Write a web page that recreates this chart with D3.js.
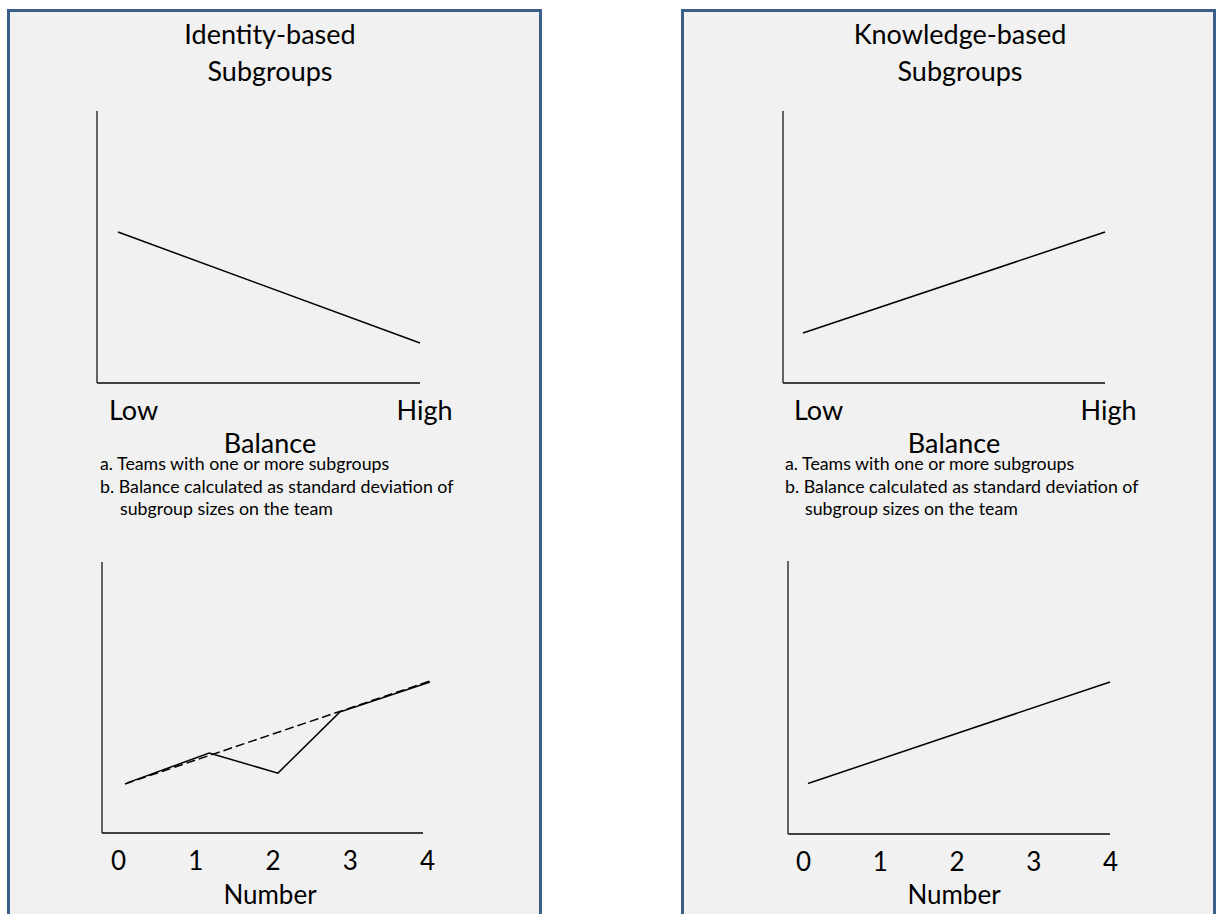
<!DOCTYPE html>
<html>
<head>
<meta charset="utf-8">
<script src="https://cdn.jsdelivr.net/npm/d3@7"></script>
<style>
  html, body { margin: 0; padding: 0; background: #ffffff; }
  svg { display: block; }
  text { font-family: Lato, "Open Sans", sans-serif; fill: #000; }
</style>
</head>
<body>
<svg id="chart" width="1217" height="914"></svg>
<script>
// ---------------- DATA ----------------
const panelTitles = [["Identity-based", "Subgroups"], ["Knowledge-based", "Subgroups"]];
const balanceLabels = ["Low", "High"];
const balanceAxisTitle = "Balance";
const notes = [
  "a. Teams with one or more subgroups",
  "b. Balance calculated as standard deviation of",
  "subgroup sizes on the team"
];
const numberTicks = [0, 1, 2, 3, 4];
const numberAxisTitle = "Number";

// Balance panels: x on 0–1 balance scale, y on 0–10 outcome scale
const identityBalanceX = [0.065, 1.0];
const identityBalanceY = [5.55, 1.47];
const knowledgeBalanceX = [0.062, 1.0];
const knowledgeBalanceY = [1.84, 5.55];

// Number panels: x = number of subgroups, y on 0–10 outcome scale
const identityNumberX = [0.12, 1.18, 2.07, 2.87, 4.04];
const identityNumberY = [1.85, 2.95, 2.21, 4.46, 5.57];
const identityTrendX = [0.09, 4.04];
const identityTrendY = [1.81, 5.61];
const knowledgeNumberX = [0.065, 4.0];
const knowledgeNumberY = [1.85, 5.57];

// ---------------- LAYOUT ----------------
const svg = d3.select("#chart");
const FONT_BIG = 27;
const FONT_NOTE = 17.8;
const panels = [
  { x: 8.5, w: 532, cx: 270, tx: 270,
    top: { x0: 97, x1: 420, y0: 111, y1: 383, lowX: 133, highX: 424 },
    bot: { x0: 102, x1: 423, y0: 562, y1: 833, t0: 118, t4: 427 },
    notesX: 100,
    balX: identityBalanceX, balY: identityBalanceY,
    numSeries: [
      { x: identityNumberX, y: identityNumberY, dash: null },
      { x: identityTrendX, y: identityTrendY, dash: "9,4" }
    ] },
  { x: 682.5, w: 532, cx: 954, tx: 960,
    top: { x0: 783, x1: 1105, y0: 111, y1: 383, lowX: 818, highX: 1108 },
    bot: { x0: 788, x1: 1110, y0: 561, y1: 834, t0: 803, t4: 1110 },
    notesX: 785,
    balX: knowledgeBalanceX, balY: knowledgeBalanceY,
    numSeries: [
      { x: knowledgeNumberX, y: knowledgeNumberY, dash: null }
    ] }
];

panels.forEach((p, i) => {
  const g = svg.append("g");
  // panel box
  g.append("rect")
    .attr("x", p.x).attr("y", 10.5)
    .attr("width", p.w).attr("height", 1000)
    .attr("fill", "#f1f1f1")
    .attr("stroke", "#3a5f8b").attr("stroke-width", 3);

  // title
  const title = g.append("text")
    .attr("text-anchor", "middle")
    .attr("font-size", FONT_BIG);
  panelTitles[i].forEach((t, k) => {
    title.append("tspan").attr("x", p.tx).attr("y", 44 + k * 37).text(t);
  });

  // ---------- top chart (Balance) ----------
  const T = p.top;
  const xb = d3.scaleLinear().domain([0, 1]).range([T.x0, T.x1]);
  const yb = d3.scaleLinear().domain([0, 10]).range([T.y1, T.y0]);
  g.append("line").attr("x1", T.x0).attr("x2", T.x0).attr("y1", T.y0).attr("y2", T.y1)
    .attr("stroke", "#333").attr("stroke-width", 1.5);
  g.append("line").attr("x1", T.x0).attr("x2", T.x1).attr("y1", T.y1).attr("y2", T.y1)
    .attr("stroke", "#404040").attr("stroke-width", 2);

  const balData = p.balX.map((v, k) => [v, p.balY[k]]);
  g.append("path").datum(balData)
    .attr("fill", "none").attr("stroke", "#000").attr("stroke-width", 1.5)
    .attr("d", d3.line().x(d => xb(d[0])).y(d => yb(d[1])));

  const lowHigh = d3.scalePoint().domain(balanceLabels).range([T.lowX, T.highX]);
  const axB = g.append("g").attr("transform", `translate(0,${T.y1 + 37})`)
    .call(d3.axisBottom(lowHigh).tickSize(0).tickPadding(0));
  axB.select(".domain").remove();
  axB.selectAll("text").attr("font-size", FONT_BIG).attr("font-family", "Lato, sans-serif").attr("fill", "#000").attr("dy", 0);

  g.append("text").attr("x", p.cx).attr("y", 453)
    .attr("text-anchor", "middle").attr("font-size", FONT_BIG).text(balanceAxisTitle);

  notes.forEach((t, k) => {
    g.append("text")
      .attr("x", p.notesX + (k === 2 ? 20 : 0))
      .attr("y", 470 + k * 22.5)
      .attr("font-size", FONT_NOTE)
      .text(t);
  });

  // ---------- bottom chart (Number) ----------
  const B = p.bot;
  const xn = d3.scaleLinear().domain([0, 4]).range([B.t0, B.t4]);
  const yn = d3.scaleLinear().domain([0, 10]).range([B.y1, B.y0]);
  g.append("line").attr("x1", B.x0).attr("x2", B.x0).attr("y1", B.y0).attr("y2", B.y1)
    .attr("stroke", "#333").attr("stroke-width", 1.5);
  g.append("line").attr("x1", B.x0).attr("x2", B.x1).attr("y1", B.y1).attr("y2", B.y1)
    .attr("stroke", "#404040").attr("stroke-width", 2);

  p.numSeries.forEach(s => {
    const d = s.x.map((v, k) => [v, s.y[k]]);
    g.append("path").datum(d)
      .attr("fill", "none").attr("stroke", "#000").attr("stroke-width", 1.5)
      .attr("stroke-dasharray", s.dash)
      .attr("d", d3.line().x(q => xn(q[0])).y(q => yn(q[1])));
  });

  const axN = g.append("g").attr("transform", `translate(0,${B.y1 + 37})`)
    .call(d3.axisBottom(xn).tickValues(numberTicks).tickFormat(d3.format("d")).tickSize(0).tickPadding(0));
  axN.select(".domain").remove();
  axN.selectAll("text").attr("font-size", 26).attr("font-family", "Lato, sans-serif").attr("fill", "#000").attr("dy", 0);

  g.append("text").attr("x", p.cx).attr("y", 904)
    .attr("text-anchor", "middle").attr("font-size", 26).text(numberAxisTitle);
});
</script>
</body>
</html>
